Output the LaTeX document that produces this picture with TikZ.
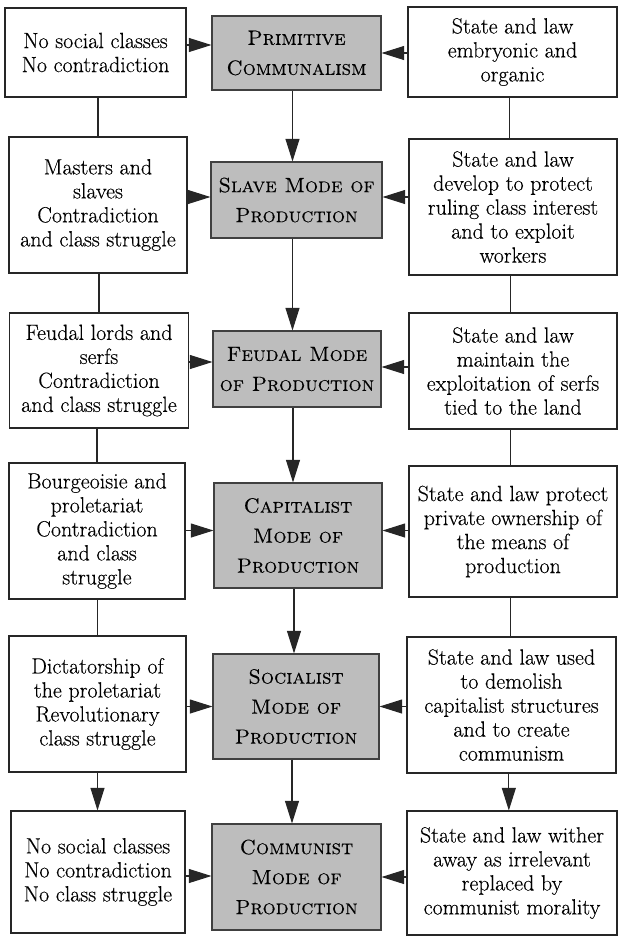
\documentclass[tikz,border=0pt]{standalone}
\usepackage{fontspec}
\setmainfont{Latin Modern Roman}[FakeBold=0.3,
  SmallCapsFont={Latin Modern Roman Caps}, SmallCapsFeatures={FakeBold=0.3}]
\usetikzlibrary{arrows.meta}
\newlength{\unitpx}\setlength{\unitpx}{0.75pt}
\definecolor{modefill}{gray}{0.74}
\begin{document}
\begin{tikzpicture}[x=0.75pt,y=-0.75pt,
  every node/.style={inner sep=0pt, align=center},
  sidebox/.style={draw=black!85, line width=0.8pt, fill=white,
    font=\fontsize{16.5}{18}\selectfont},
  modebox/.style={draw=black!75, line width=0.8pt, fill=modefill,
    font=\fontsize{15.5}{22.5}\selectfont\scshape},
  link/.style={line width=0.8pt, draw=black!85},
  arr/.style={link, -{Triangle[length=17pt,width=10.5pt]}},
]
\fill[white] (0,0) rectangle (618,936);
\useasboundingbox (0,0) rectangle (618,936);

% row 1
\node[sidebox, minimum width=181\unitpx, minimum height=89\unitpx] (L1) at (95.5,52.5)
  {No social classes\\No contradiction};
\node[modebox, minimum width=169\unitpx, minimum height=74\unitpx] (C1) at (296.5,53)
  {Primitive\\Communalism};
\node[sidebox, minimum width=209\unitpx, minimum height=90\unitpx] (R1) at (512.5,52)
  {State and law\\embryonic and\\organic};

% row 2
\node[sidebox, minimum width=178\unitpx, minimum height=136\unitpx] (L2) at (98,205)
  {Masters and\\slaves\\Contradiction\\and class struggle};
\node[modebox, minimum width=171\unitpx, minimum height=76\unitpx] (C2) at (296.5,200)
  {Slave Mode of\\Production};
\node[sidebox, minimum width=208\unitpx, minimum height=136\unitpx] (R2) at (513,207)
  {State and law\\develop to protect\\ruling class interest\\and to exploit\\workers};

% row 3
\node[sidebox, minimum width=179\unitpx, minimum height=115\unitpx] (L3) at (99,370.5)
  {Feudal lords and\\serfs\\Contradiction\\and class struggle};
\node[modebox, minimum width=168\unitpx, minimum height=76\unitpx] (C3) at (297,369)
  {Feudal Mode\\of Production};
\node[sidebox, minimum width=208\unitpx, minimum height=116\unitpx] (R3) at (513,371)
  {State and law\\maintain the\\exploitation of serfs\\tied to the land};

% row 4
\node[sidebox, minimum width=176\unitpx, minimum height=136\unitpx] (L4) at (97,531)
  {Bourgeoisie and\\proletariat\\Contradiction\\and class\\struggle};
\node[modebox, minimum width=168\unitpx, minimum height=105\unitpx] (C4) at (298,535.5)
  {Capitalist\\Mode of\\Production};
\node[sidebox, minimum width=208\unitpx, minimum height=131\unitpx] (R4) at (513,531.5)
  {State and law protect\\private ownership of\\the means of\\production};

% row 5
\node[sidebox, minimum width=177\unitpx, minimum height=136\unitpx] (L5) at (97.5,704)
  {Dictatorship of\\the proletariat\\Revolutionary\\class struggle};
\node[modebox, minimum width=166\unitpx, minimum height=105\unitpx] (C5) at (296,706.5)
  {Socialist\\Mode of\\Production};
\node[sidebox, minimum width=209\unitpx, minimum height=136\unitpx] (R5) at (511.5,705)
  {State and law used\\to demolish\\capitalist structures\\and to create\\communism};

% row 6
\node[sidebox, minimum width=174\unitpx, minimum height=122\unitpx] (L6) at (98,872)
  {No social classes\\No contradiction\\No class struggle};
\node[modebox, minimum width=169\unitpx, minimum height=106\unitpx] (C6) at (296.5,877)
  {Communist\\Mode of\\Production};
\node[sidebox, minimum width=210\unitpx, minimum height=124\unitpx] (R6) at (512,873)
  {State and law wither\\away as irrelevant\\replaced by\\communist morality};

% side boxes feed the mode boxes (with small per-row offsets of the entry points)
\foreach \r/\dl/\dr in {1/8/0, 2/3/3, 3/7/2, 4/5/5, 5/0/0, 6/1/0}{
  \draw[arr] ([yshift=\dl\unitpx]L\r.east |- C\r.west) -- ([yshift=\dl\unitpx]C\r.west);
  \draw[arr] ([yshift=\dr\unitpx]R\r.west |- C\r.east) -- ([yshift=\dr\unitpx]C\r.east);
}

% succession of modes
\foreach \a/\b in {1/2,2/3,3/4,4/5,5/6}{
  \draw[arr] ([xshift=-3pt]C\a.south) -- ([xshift=-3pt]C\a.south |- C\b.north);
}

% side columns
\foreach \a/\b in {1/2,2/3,3/4,4/5}{
  \draw[link] (L\a.south -| L\b.north) -- (L\b.north);
  \draw[link] ([xshift=-2pt]R\a.south) -- ([xshift=-2pt]R\a.south |- R\b.north);
}
\draw[arr] (L5.south) -- (L5.south |- L6.north);
\draw[arr] ([xshift=-2pt]R5.south) -- ([xshift=-2pt]R5.south |- R6.north);
\end{tikzpicture}
\end{document}
